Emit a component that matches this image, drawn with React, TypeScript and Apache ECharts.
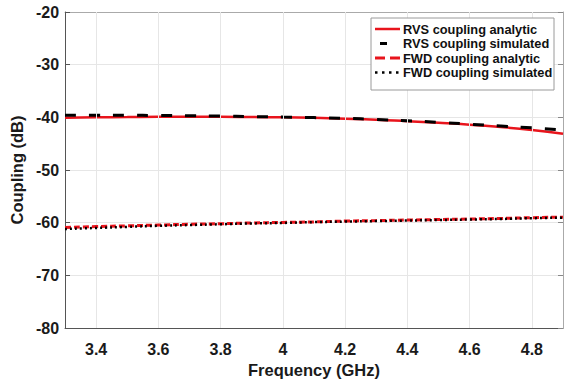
import React, { useEffect, useRef } from "react";
import * as echarts from "echarts";

const freqGHz = [3.3, 3.4, 3.5, 3.6, 3.7, 3.8, 3.9, 4.0, 4.1, 4.2, 4.3, 4.4, 4.5, 4.6, 4.7, 4.8, 4.9];
const rvsAnalytic = [-40.1, -40.0, -39.95, -39.9, -39.9, -39.9, -39.95, -40.0, -40.1, -40.25, -40.45, -40.75, -41.05, -41.4, -41.85, -42.4, -43.1];
const rvsSimulated = [-39.6, -39.6, -39.6, -39.65, -39.7, -39.75, -39.85, -39.95, -40.05, -40.2, -40.4, -40.65, -40.95, -41.3, -41.65, -42.0, -42.4];
const fwdAnalytic = [-60.9, -60.75, -60.6, -60.45, -60.3, -60.2, -60.05, -59.95, -59.85, -59.7, -59.6, -59.5, -59.4, -59.3, -59.2, -59.05, -58.95];
const fwdSimulated = [-61.2, -61.0, -60.8, -60.6, -60.45, -60.3, -60.15, -60.05, -59.9, -59.8, -59.7, -59.6, -59.5, -59.4, -59.3, -59.15, -59.05];
const xTicks = [3.4, 3.6, 3.8, 4.0, 4.2, 4.4, 4.6, 4.8];
const seriesNames = [
  "RVS coupling analytic",
  "RVS coupling simulated",
  "FWD coupling analytic",
  "FWD coupling simulated",
];

const pairs = (ys: number[]) => freqGHz.map((x, i) => [x, ys[i]]);

const RED = "#e8141c";
const styles = [
  { color: RED, width: 2.5, dash: null as number[] | null },
  { color: "#000", width: 3, dash: [11, 13] },
  { color: RED, width: 3, dash: [6, 3] },
  { color: "#000", width: 2.5, dash: [2, 3] },
];
const legendSamples = [
  { x1: 375, x2: 400, dash: null as number[] | null },
  { x1: 380, x2: 387, dash: null as number[] | null },
  { x1: 375, x2: 400, dash: [10, 5] },
  { x1: 375, x2: 400, dash: [2.5, 4.5] },
];

export default function App() {
  const ref = useRef<HTMLDivElement>(null);
  useEffect(() => {
    if (!ref.current) return;
    const chart = echarts.init(ref.current, undefined, { renderer: "svg" });
    const font = "Liberation Sans, Arial, sans-serif";
    const tickLabel = { color: "#1a1a1a", fontSize: 16, fontWeight: "bold" as const, fontFamily: font };
    const nameStyle = { fontSize: 16.5, fontWeight: "bold" as const, color: "#1a1a1a", fontFamily: font };

    const legendRowY = [29, 43.5, 58, 72.5];
    const legendGraphics: any[] = [
      {
        type: "rect",
        shape: { x: 371, y: 18, width: 183, height: 72 },
        style: { fill: "#fff", stroke: "#9a9a9a", lineWidth: 1 },
        z: 100,
      },
    ];
    seriesNames.forEach((name, i) => {
      const s = styles[i];
      const ls = legendSamples[i];
      legendGraphics.push({
        type: "line",
        shape: { x1: ls.x1, y1: legendRowY[i], x2: ls.x2, y2: legendRowY[i] },
        style: { stroke: s.color, lineWidth: s.width, lineDash: ls.dash || undefined },
        z: 101,
      });
      legendGraphics.push({
        type: "text",
        x: 403,
        y: legendRowY[i],
        style: {
          text: name,
          fill: "#111",
          font: `bold 12.8px ${font}`,
          verticalAlign: "middle",
        },
        z: 101,
      });
    });

    chart.setOption({
      animation: false,
      backgroundColor: "#fff",
      grid: { left: 64, right: 5, top: 12, bottom: 56, containLabel: false },
      graphic: legendGraphics,
      xAxis: [
        {
          type: "value",
          min: 3.3,
          max: 4.9,
          name: "Frequency (GHz)",
          nameLocation: "middle",
          nameGap: 33,
          nameTextStyle: nameStyle,
          axisLine: { lineStyle: { color: "#555", width: 1 } },
          axisTick: { show: true, inside: true, length: 5, customValues: xTicks, lineStyle: { color: "#555" } },
          axisLabel: {
            ...tickLabel,
            margin: 13,
            customValues: xTicks,
            formatter: (v: number) => String(+v.toFixed(1)),
          },
          splitLine: { show: false },
        },
        {
          type: "value",
          position: "top",
          min: 3.3,
          max: 4.9,
          axisLine: { show: true, lineStyle: { color: "#aaa" } },
          axisTick: { show: true, inside: true, length: 5, customValues: xTicks, lineStyle: { color: "#888" } },
          axisLabel: { show: false, customValues: xTicks },
          splitLine: { show: false },
        },
      ],
      yAxis: [
        {
          type: "value",
          min: -80,
          max: -20,
          interval: 10,
          name: "Coupling (dB)",
          nameLocation: "middle",
          nameGap: 25,
          nameRotate: 90,
          nameTextStyle: nameStyle,
          axisLine: { show: true, lineStyle: { color: "#555", width: 1 } },
          axisTick: { show: true, inside: true, length: 5, lineStyle: { color: "#555" } },
          axisLabel: { ...tickLabel, margin: 6 },
          splitLine: { show: true, lineStyle: { color: "#e6e6e6", width: 1 } },
        },
        {
          type: "value",
          position: "right",
          min: -80,
          max: -20,
          interval: 10,
          axisLine: { show: true, lineStyle: { color: "#aaa" } },
          axisTick: { show: true, inside: true, length: 5, lineStyle: { color: "#888" } },
          axisLabel: { show: false },
          splitLine: { show: false },
        },
      ],
      series: [
        {
          name: "xgrid",
          type: "line",
          data: [],
          silent: true,
          z: 1,
          markLine: {
            silent: true,
            symbol: "none",
            label: { show: false },
            lineStyle: { color: "#e6e6e6", width: 1, type: "solid" },
            data: xTicks.map((v) => ({ xAxis: v })),
          },
        },
        ...[rvsAnalytic, rvsSimulated, fwdAnalytic, fwdSimulated].map((ys, i) => ({
          name: seriesNames[i],
          type: "line",
          data: pairs(ys),
          showSymbol: false,
          symbol: "none",
          smooth: true,
          lineStyle: { color: styles[i].color, width: styles[i].width, type: styles[i].dash || "solid" },
          itemStyle: { color: styles[i].color },
          z: i === 0 ? 2 : 3 + i,
        })),
      ],
    });
    return () => chart.dispose();
  }, []);
  return <div ref={ref} style={{ width: 568, height: 384, position: "absolute", left: 0, top: 0 }} />;
}
